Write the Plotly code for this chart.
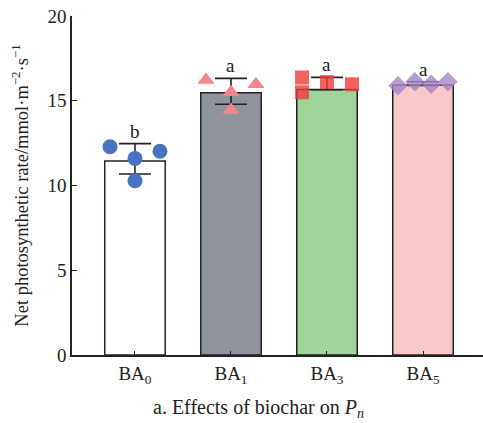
import plotly.graph_objects as go

categories = ["BA<sub>0</sub>", "BA<sub>1</sub>", "BA<sub>3</sub>", "BA<sub>5</sub>"]
bar_values = [11.45, 15.47, 15.67, 15.93]
err_plus = [1.02, 0.85, 0.71, 0.19]
err_minus = [0.77, 0.68, 0.02, 0.02]
letters = ["b", "a", "a", "a"]

pts_BA0_x = [-0.26, 0.0, 0.26, 0.0]
pts_BA0_y = [12.29, 11.60, 12.02, 10.28]
pts_BA1_x = [-0.26, 0.0, 0.26, 0.0]
pts_BA1_y = [16.22, 15.50, 15.97, 14.45]
pts_BA3_x = [-0.26, -0.26, 0.0, 0.26]
pts_BA3_y = [16.37, 15.50, 16.10, 15.97]
pts_BA5_x = [-0.26, -0.085, 0.085, 0.26]
pts_BA5_y = [15.89, 16.12, 15.97, 16.12]

bar_colors = ["#ffffff", "#8f939c", "#9fd49a", "#f9c9c9"]
font_family = "Liberation Serif"

fig = go.Figure()
xs = list(range(len(categories)))
fig.add_trace(go.Bar(
    x=xs, y=bar_values, width=0.63,
    marker=dict(color=bar_colors, line=dict(color="#222222", width=1.5)),
    error_y=dict(type="data", symmetric=False, array=err_plus, arrayminus=err_minus,
                 color="#222222", thickness=1.6, width=16),
    showlegend=False,
))

point_sets = [
    (0, pts_BA0_x, pts_BA0_y, "circle", "#4a72c1", 1.0, 15),
    (1, pts_BA1_x, pts_BA1_y, "triangle-up", "#f4858d", 1.0, 15),
    (2, pts_BA3_x, pts_BA3_y, "square", "#f0393c", 0.8, 14),
    (3, pts_BA5_x, pts_BA5_y, "diamond", "#a585c6", 0.8, 15),
]
for idx, dx, yy, sym, col, op, sz in point_sets:
    fig.add_trace(go.Scatter(
        x=[idx + d for d in dx], y=yy, mode="markers",
        marker=dict(symbol=sym, color=col, size=sz, opacity=op, line=dict(width=0)),
        showlegend=False,
    ))

for i, (v, e, t) in enumerate(zip(bar_values, err_plus, letters)):
    fig.add_annotation(x=i, y=v + e, text=t, showarrow=False, yanchor="bottom",
                       yshift=0, font=dict(family=font_family, size=19, color="#222222"))

fig.add_annotation(xref="paper", yref="paper", x=0.4526, y=0, yshift=-53,
                   xanchor="center", yanchor="middle", showarrow=False,
                   text="a. Effects of biochar on <i>P</i><sub><i>n</i></sub>",
                   font=dict(family=font_family, size=20, color="#222222"))

fig.update_layout(
    width=483, height=423,
    margin=dict(l=72, r=0, t=16, b=68),
    plot_bgcolor="white", paper_bgcolor="white",
    font=dict(family=font_family, size=18, color="#222222"),
    xaxis=dict(
        range=[-0.656, 3.625], tickvals=xs, ticktext=categories,
        showline=True, linecolor="#222222", linewidth=1.5,
        ticks="inside", ticklen=4, tickcolor="#222222", tickwidth=1.2,
        showgrid=False, zeroline=False, automargin=False,
        tickfont=dict(family=font_family, size=19),
    ),
    yaxis=dict(
        range=[0, 20], tickvals=[0, 5, 10, 15, 20],
        showline=True, linecolor="#222222", linewidth=1.5,
        ticks="inside", ticklen=5, tickcolor="#222222", tickwidth=1.2,
        showgrid=False, zeroline=False, automargin=False,
        tickfont=dict(family=font_family, size=19),
        title=dict(text="Net photosynthetic rate/mmol·m<sup>−2</sup>·s<sup>−1</sup>",
                   font=dict(family=font_family, size=18.5), standoff=14),
    ),
)

fig.write_html("out.html", config={"displayModeBar": False},
               post_script="document.body.style.margin='0';document.body.style.overflow='hidden';")
